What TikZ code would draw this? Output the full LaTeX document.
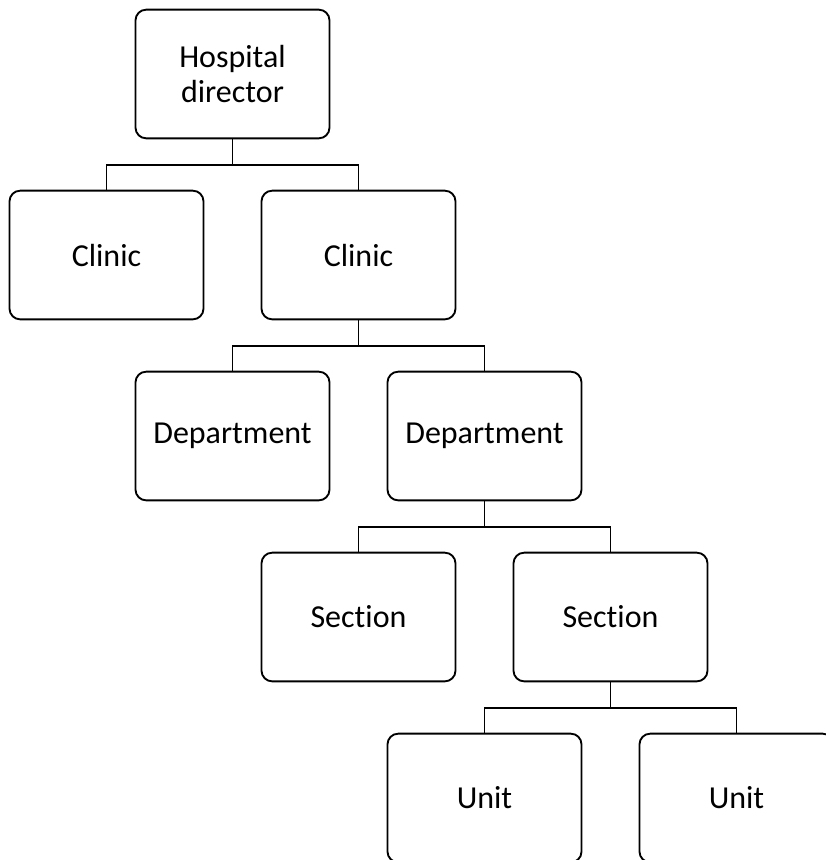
\documentclass[tikz,border=0pt]{standalone}
\usepackage{fontspec}
\setmainfont{Carlito}[Ligatures=NoCommon]
\usepackage{tikz}
\usetikzlibrary{positioning}

\tikzset{
  orgbox/.style={draw, rounded corners=8pt, line width=1.4pt, minimum width=145.5pt, minimum height=96.5pt, align=center, font=\fontsize{24}{26.5}\selectfont},
  link/.style={line width=1.4pt}
}

\begin{document}
\begin{tikzpicture}[x=0.75pt,y=-0.75pt]
\useasboundingbox (0,0) rectangle (825,860);
% boxes
\node[orgbox] (hd) at (232.5,74) {Hospital\\director};
\node[orgbox] (cl1) at (106.5,255) {Clinic};
\node[orgbox] (cl2) at (358.5,255) {Clinic};
\node[orgbox] (dep1) at (232.5,436) {Department};
\node[orgbox] (dep2) at (484.5,436) {Department};
\node[orgbox] (sec1) at (358.5,617) {Section};
\node[orgbox] (sec2) at (610.5,617) {Section};
\node[orgbox] (un1) at (484.5,798) {Unit};
\node[orgbox] (un2) at (736.5,798) {Unit};
% links
\draw[link] (hd.south) -- ++(0,25.5) -| (cl1.north);
\draw[link] (hd.south) -- ++(0,25.5) -| (cl2.north);
\draw[link] (cl2.south) -- ++(0,25.5) -| (dep1.north);
\draw[link] (cl2.south) -- ++(0,25.5) -| (dep2.north);
\draw[link] (dep2.south) -- ++(0,25.5) -| (sec1.north);
\draw[link] (dep2.south) -- ++(0,25.5) -| (sec2.north);
\draw[link] (sec2.south) -- ++(0,25.5) -| (un1.north);
\draw[link] (sec2.south) -- ++(0,25.5) -| (un2.north);
\end{tikzpicture}
\end{document}
